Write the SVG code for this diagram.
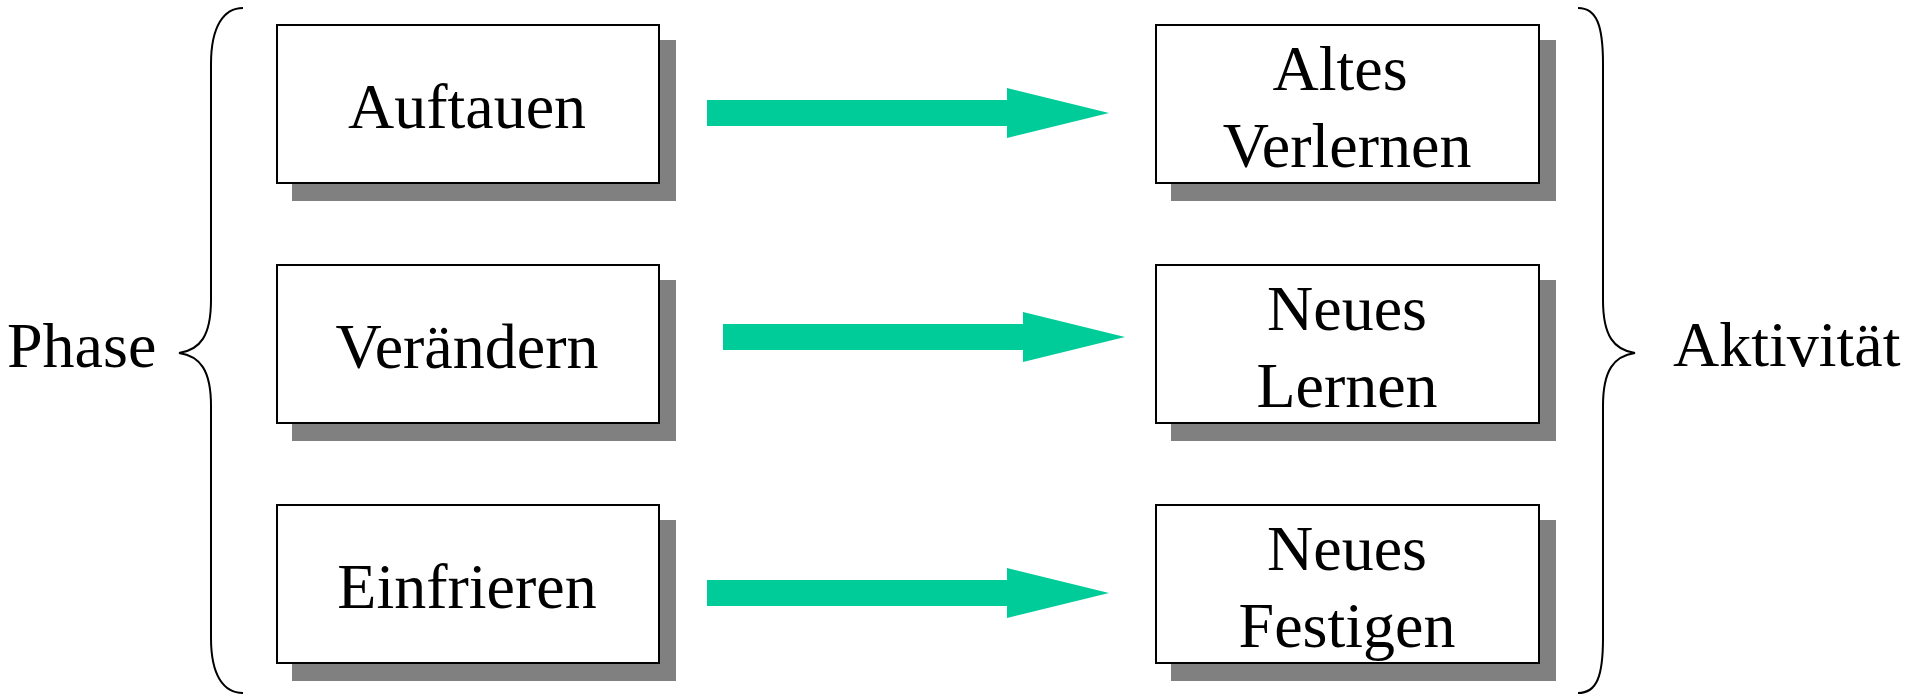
<svg xmlns="http://www.w3.org/2000/svg" width="1909" height="696" viewBox="0 0 1909 696">
  <style>
    .shadow { fill: #808080; }
    .box { fill: #ffffff; stroke: #000000; stroke-width: 2; }
    .label { font-family: "Liberation Serif", "Times New Roman", serif; font-size: 64px; fill: #000000; }
    .mid { text-anchor: middle; }
    .brace { fill: none; stroke: #000000; stroke-width: 2; }
    .arrow { fill: #00cc99; }
  </style>
  <defs>
    <path id="fat-arrow" d="M0,-13 L300,-13 L300,-25 L402,0 L300,25 L300,13 L0,13 Z"/>
  </defs>
  <rect width="1909" height="696" fill="#ffffff"/>

  <!-- side labels and braces -->
  <g id="phase">
    <text class="label" x="7" y="367">Phase</text>
    <path class="brace" d="M243,8 C224,8 211,26 211,64 L211,300 C211,336 200,350 179,353 C200,356 211,370 211,406 L211,638 C211,676 224,693 243,693"/>
  </g>
  <g id="aktivitaet">
    <text class="label" x="1673" y="366">Aktivität</text>
    <path class="brace" d="M1578,8 C1597,8 1603,26 1603,64 L1603,300 C1603,336 1614,350 1635,353 C1614,356 1603,370 1603,406 L1603,638 C1603,676 1597,693 1578,693"/>
  </g>

  <!-- phase boxes -->
  <g id="auftauen">
    <rect class="shadow" x="292" y="40" width="384" height="161"/>
    <rect class="box" x="277" y="25" width="382" height="158"/>
    <text class="label mid" x="467" y="128">Auftauen</text>
  </g>
  <g id="veraendern">
    <rect class="shadow" x="292" y="280" width="384" height="161"/>
    <rect class="box" x="277" y="265" width="382" height="158"/>
    <text class="label mid" x="467" y="368">Verändern</text>
  </g>
  <g id="einfrieren">
    <rect class="shadow" x="292" y="520" width="384" height="161"/>
    <rect class="box" x="277" y="505" width="382" height="158"/>
    <text class="label mid" x="467" y="608">Einfrieren</text>
  </g>

  <!-- activity boxes -->
  <g id="altes-verlernen">
    <rect class="shadow" x="1171" y="40" width="385" height="161"/>
    <rect class="box" x="1156" y="25" width="383" height="158"/>
    <text class="label mid" x="1340" y="90">Altes</text>
    <text class="label mid" x="1347" y="167">Verlernen</text>
  </g>
  <g id="neues-lernen">
    <rect class="shadow" x="1171" y="280" width="385" height="161"/>
    <rect class="box" x="1156" y="265" width="383" height="158"/>
    <text class="label mid" x="1347" y="330">Neues</text>
    <text class="label mid" x="1347" y="407">Lernen</text>
  </g>
  <g id="neues-festigen">
    <rect class="shadow" x="1171" y="520" width="385" height="161"/>
    <rect class="box" x="1156" y="505" width="383" height="158"/>
    <text class="label mid" x="1347" y="570">Neues</text>
    <text class="label mid" x="1347" y="647">Festigen</text>
  </g>

  <!-- connectors -->
  <g id="connectors">
    <use href="#fat-arrow" class="arrow" transform="translate(707,113)"/>
    <use href="#fat-arrow" class="arrow" transform="translate(723,337)"/>
    <use href="#fat-arrow" class="arrow" transform="translate(707,593)"/>
  </g>
</svg>
